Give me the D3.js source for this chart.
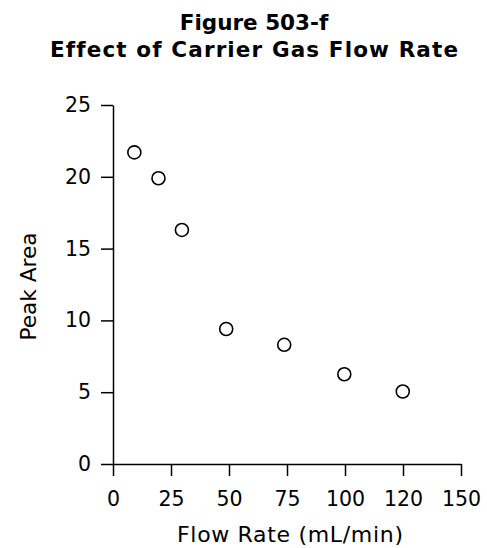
<!DOCTYPE html>
<html>
<head>
<meta charset="utf-8">
<script src="https://cdn.jsdelivr.net/npm/d3@7"></script>
<style>
  html, body { margin: 0; padding: 0; background: #fff; }
  svg { display: block; }
  text { font-family: "DejaVu Sans", sans-serif; fill: #000; font-variant-ligatures: none; font-feature-settings: "liga" 0; }
</style>
</head>
<body>
<svg id="chart" width="487" height="548"></svg>
<script>
// Data
const flowRate = [9.2, 19.6, 29.7, 48.8, 73.8, 99.7, 124.9];
const peakArea = [21.7, 19.9, 16.3, 9.4, 8.3, 6.25, 5.05];
const xTickValues = [0, 25, 50, 75, 100, 125, 150];
const xTickLabels = ["0", "25", "50", "75", "100", "120", "150"];
const yTickValues = [0, 5, 10, 15, 20, 25];
const titleLines = ["Figure 503-f", "Effect of Carrier Gas Flow Rate"];
const xTitle = "Flow Rate (mL/min)";
const yTitle = "Peak Area";

const svg = d3.select("#chart");
const margin = { left: 113, right: 26, top: 105, bottom: 84 };
const W = 487, H = 548;

const x = d3.scaleLinear().domain([0, 150]).range([margin.left, W - margin.right]);
const y = d3.scaleLinear().domain([0, 25]).range([H - margin.bottom, margin.top]);

// Title
const title = svg.append("text")
  .attr("text-anchor", "middle")
  .style("font-weight", "bold")
  .style("font-size", "21.5px");
title.selectAll("tspan").data(titleLines).join("tspan")
  .attr("x", 254)
  .attr("y", (d, i) => 30 + i * 27)
  .text(d => d);
title.selectAll("tspan").filter((d, i) => i === 1)
  .attr("textLength", 408)
  .attr("lengthAdjust", "spacing");

// X axis
const xAxis = d3.axisBottom(x)
  .tickValues(xTickValues)
  .tickFormat((d, i) => xTickLabels[i])
  .tickSize(12)
  .tickSizeOuter(0)
  .tickPadding(15);
const gx = svg.append("g")
  .attr("transform", `translate(0,${y(0)})`)
  .call(xAxis);

// Y axis
const yAxis = d3.axisLeft(y)
  .tickValues(yTickValues)
  .tickSize(12)
  .tickSizeOuter(0)
  .tickPadding(10);
const gy = svg.append("g")
  .attr("transform", `translate(${x(0)},0)`)
  .call(yAxis);

[gx, gy].forEach(g => {
  g.selectAll("path.domain").attr("stroke", "#000").attr("stroke-width", 1.5);
  g.selectAll(".tick line").attr("stroke", "#000").attr("stroke-width", 1.5);
  g.selectAll(".tick text")
    .style("font-family", '"DejaVu Sans", sans-serif')
    .style("font-size", "20.5px")
    .attr("fill", "#000");
});

// Axis titles
svg.append("text")
  .attr("x", (x(0) + x(150)) / 2 + 3)
  .attr("y", 542)
  .attr("text-anchor", "middle")
  .attr("textLength", 226)
  .attr("lengthAdjust", "spacing")
  .style("font-size", "22px")
  .text(xTitle);

svg.append("text")
  .attr("transform", `translate(36,${(y(0) + y(25)) / 2 + 2}) rotate(-90)`)
  .attr("text-anchor", "middle")
  .attr("textLength", 108)
  .attr("lengthAdjust", "spacingAndGlyphs")
  .style("font-size", "22px")
  .text(yTitle);

// Points
svg.append("g").selectAll("circle")
  .data(flowRate.map((f, i) => [f, peakArea[i]]))
  .join("circle")
  .attr("cx", d => x(d[0]))
  .attr("cy", d => y(d[1]))
  .attr("r", 6.5)
  .attr("fill", "none")
  .attr("stroke", "#000")
  .attr("stroke-width", 1.6);
</script>
</body>
</html>
